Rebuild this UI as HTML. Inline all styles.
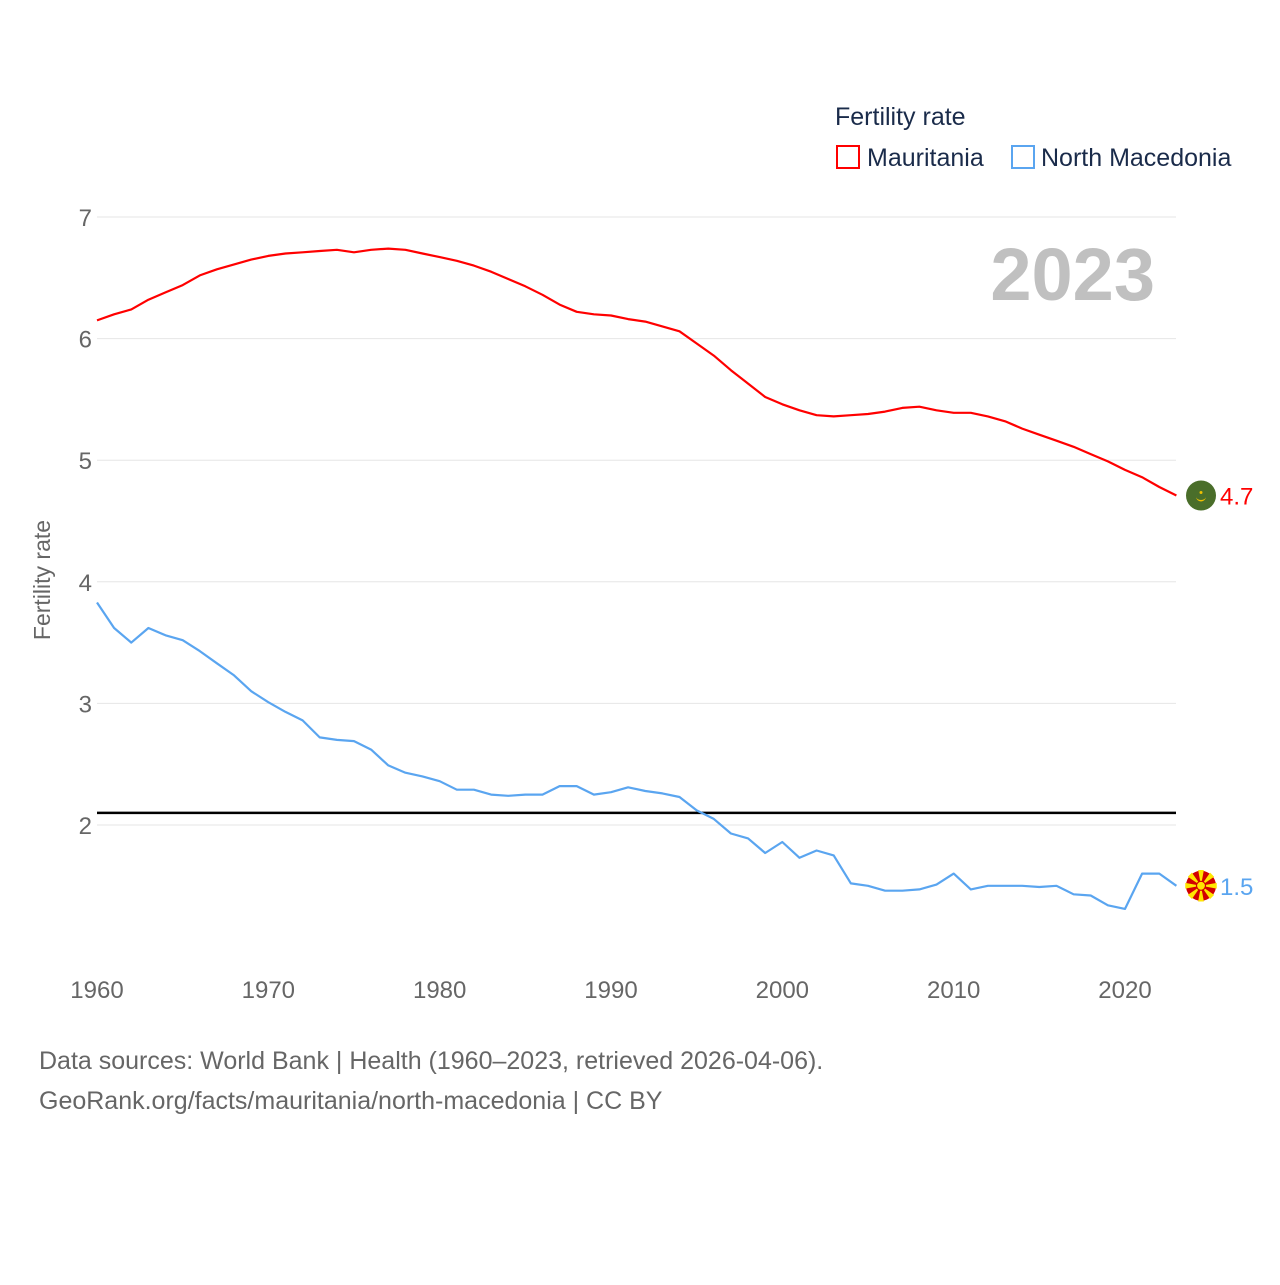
<!DOCTYPE html>
<html><head><meta charset="utf-8">
<style>
body{margin:0;background:#fff;font-family:"Liberation Sans",sans-serif;}
svg text{font-family:"Liberation Sans",sans-serif;}
</style></head>
<body>
<svg id="chart" width="1280" height="1280" xmlns="http://www.w3.org/2000/svg">
<rect width="1280" height="1280" fill="#fff"/>
<g id="grid"></g>
<g id="lines"></g>
<text x="835" y="125" font-size="25" fill="#1a2b4a">Fertility rate</text>
<rect x="837" y="146" width="22" height="22" fill="none" stroke="#ff0000" stroke-width="2"/>
<text x="867" y="166" font-size="25" fill="#1a2b4a">Mauritania</text>
<rect x="1012" y="146" width="22" height="22" fill="none" stroke="#5aa5f0" stroke-width="2"/>
<text x="1041" y="166" font-size="25" fill="#1a2b4a">North Macedonia</text>
<text x="1155" y="300" font-size="74" font-weight="bold" fill="#c0c0c0" text-anchor="end">2023</text>
<text transform="translate(50,580) rotate(-90)" font-size="23" fill="#666" text-anchor="middle">Fertility rate</text>
<text x="39" y="1069" font-size="25" fill="#666">Data sources: World Bank | Health (1960–2023, retrieved 2026-04-06).</text>
<text x="39" y="1109" font-size="25" fill="#666">GeoRank.org/facts/mauritania/north-macedonia | CC BY</text>
</svg>
<script>
const years=[];for(let y=1960;y<=2023;y++)years.push(y);
const mauritania=[6.15,6.20,6.24,6.32,6.38,6.44,6.52,6.57,6.61,6.65,6.68,6.70,6.71,6.72,6.73,6.71,6.73,6.74,6.73,6.70,6.67,6.64,6.60,6.55,6.49,6.43,6.36,6.28,6.22,6.20,6.19,6.16,6.14,6.10,6.06,5.96,5.86,5.74,5.63,5.52,5.46,5.41,5.37,5.36,5.37,5.38,5.40,5.43,5.44,5.41,5.39,5.39,5.36,5.32,5.26,5.21,5.16,5.11,5.05,4.99,4.92,4.86,4.78,4.71];
const macedonia=[3.83,3.62,3.50,3.62,3.56,3.52,3.43,3.33,3.23,3.10,3.01,2.93,2.86,2.72,2.70,2.69,2.62,2.49,2.43,2.40,2.36,2.29,2.29,2.25,2.24,2.25,2.25,2.32,2.32,2.25,2.27,2.31,2.28,2.26,2.23,2.12,2.05,1.93,1.89,1.77,1.86,1.73,1.79,1.75,1.52,1.50,1.46,1.46,1.47,1.51,1.60,1.47,1.50,1.50,1.50,1.49,1.50,1.43,1.42,1.34,1.31,1.60,1.60,1.50];
const yTicks=[2,3,4,5,6,7];
const xTicks=[1960,1970,1980,1990,2000,2010,2020];
const replacementRate=[2.1];
const labels=["4.7","1.5"];
const NS="http://www.w3.org/2000/svg";
const X=y=>97+(y-1960)*(1028/60);
const Y=v=>217+(7-v)*121.6;
function mk(tag,attrs,parent){const e=document.createElementNS(NS,tag);for(const k in attrs)e.setAttribute(k,attrs[k]);parent.appendChild(e);return e;}
const grid=document.getElementById('grid'),lines=document.getElementById('lines');
yTicks.forEach(t=>{
 const l=mk('line',{x1:97,x2:1176,y1:Y(t),y2:Y(t),stroke:'#e6e6e6','stroke-width':1},grid);
 
 
 const tx=mk('text',{x:92,y:Y(t)+9,'font-size':24,fill:'#666','text-anchor':'end'},grid);tx.textContent=t;
 
 
});
xTicks.forEach(t=>{
 const tx=mk('text',{x:X(t),y:998,'font-size':24,fill:'#666','text-anchor':'middle'},grid);tx.textContent=t;
 
 
});
const rl=mk('line',{x1:97,x2:1176,y1:Y(replacementRate[0]),y2:Y(replacementRate[0]),stroke:'#000','stroke-width':2.5},lines);


function series(vals,color,name){
 const d=vals.map((v,i)=>(i?'L':'M')+X(years[i]).toFixed(1)+','+Y(v).toFixed(1)).join('');
 const p=mk('path',{d:d,fill:'none',stroke:color,'stroke-width':2.2,'stroke-linejoin':'round'},lines);
 
 
}
series(mauritania,'#ff0000','line-mauritania');
series(macedonia,'#5aa5f0','line-north-macedonia');
// end markers
const lm=mauritania[mauritania.length-1],lk=macedonia[macedonia.length-1];
const fm=mk('g',{},lines);


mk('circle',{cx:1201,cy:Y(lm),r:15,fill:'#4a6e2a'},fm);
mk('path',{d:`M1196,${Y(lm)+1} a5,5 0 0 0 10,0 a5,3.5 0 0 1 -10,0z`,fill:'#f0c000'},fm);
mk('circle',{cx:1201,cy:Y(lm)-3,r:1.5,fill:'#f0c000'},fm);
const t1=mk('text',{x:1220,y:Y(lm)+9,'font-size':24,fill:'#ff0000'},lines);t1.textContent=labels[0];


const fk=mk('g',{},lines);


const cy=Y(lk);
mk('circle',{cx:1201,cy:cy,r:15,fill:'#d20000'},fk);
for(let a=0;a<8;a++){const t=a*Math.PI/4;
 mk('path',{d:`M1201,${cy} L${1201+16*Math.cos(t-0.18)},${cy+16*Math.sin(t-0.18)} L${1201+16*Math.cos(t+0.18)},${cy+16*Math.sin(t+0.18)}Z`,fill:'#ffe600'},fk);}
mk('circle',{cx:1201,cy:cy,r:4.5,fill:'#ffe600',stroke:'#d20000','stroke-width':1.2},fk);
const t2=mk('text',{x:1220,y:cy+9,'font-size':24,fill:'#5aa5f0'},lines);t2.textContent=labels[1];


</script>
</body></html>
